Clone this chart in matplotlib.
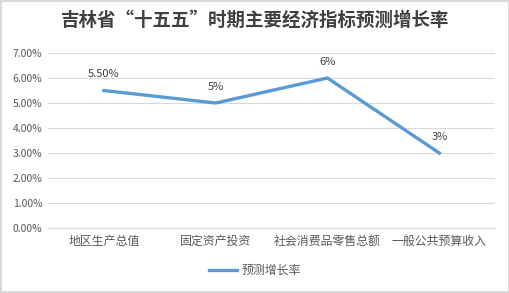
import matplotlib
matplotlib.use('Agg')
import matplotlib.pyplot as plt
from matplotlib.ticker import FuncFormatter

plt.rcParams['font.family'] = ['Noto Sans CJK SC', 'DejaVu Sans']

title = '吉林省“十五五”时期主要经济指标预测增长率'
categories = ['地区生产总值', '固定资产投资', '社会消费品零售总额', '一般公共预算收入']
growth = [5.5, 5.0, 6.0, 3.0]
point_labels = ['5.50%', '5%', '6%', '3%']
series_name = '预测增长率'

text_gray = '#595959'
line_blue = '#5B9BD5'

fig = plt.figure(figsize=(5.10, 2.93), dpi=100)
fig.patch.set_edgecolor('#D9D9D9')
fig.patch.set_linewidth(1.5)
ax = fig.add_axes([0.094, 0.222, 0.877, 0.597])

x = list(range(len(categories)))
line, = ax.plot(x, growth, color=line_blue, linewidth=2.4, label=series_name)
for xi, yi, lab in zip(x, growth, point_labels):
    ax.annotate(lab, (xi, yi), xytext=(0, 8), textcoords='offset points',
                ha='center', va='bottom', fontsize=8, color='#404040')

ax.set_xlim(-0.5, len(categories) - 0.5)
ax.set_ylim(0, 7)
ax.set_yticks([0, 1, 2, 3, 4, 5, 6, 7])
ax.yaxis.set_major_formatter(FuncFormatter(lambda v, p: f'{v:.2f}%'))
ax.set_xticks(x)
ax.set_xticklabels(categories)
ax.tick_params(axis='both', length=0, colors=text_gray)
ax.tick_params(axis='x', pad=5, labelsize=8.6)
ax.tick_params(axis='y', pad=4, labelsize=7.5)
ax.grid(axis='y', color='#D9D9D9', linewidth=0.8)
ax.set_axisbelow(True)
for side in ['top', 'right', 'left']:
    ax.spines[side].set_visible(False)
ax.spines['bottom'].set_color('#D9D9D9')

fig.text(0.5, 0.93, title, ha='center', va='center', fontsize=13.3,
         fontweight='bold', color='#404040')
fig.legend(handles=[line], loc='center', bbox_to_anchor=(0.5, 0.077),
           frameon=False, fontsize=8.6, labelcolor=text_gray,
           handlelength=2.4, handletextpad=0.4)

fig.savefig('out.png', dpi=100)
